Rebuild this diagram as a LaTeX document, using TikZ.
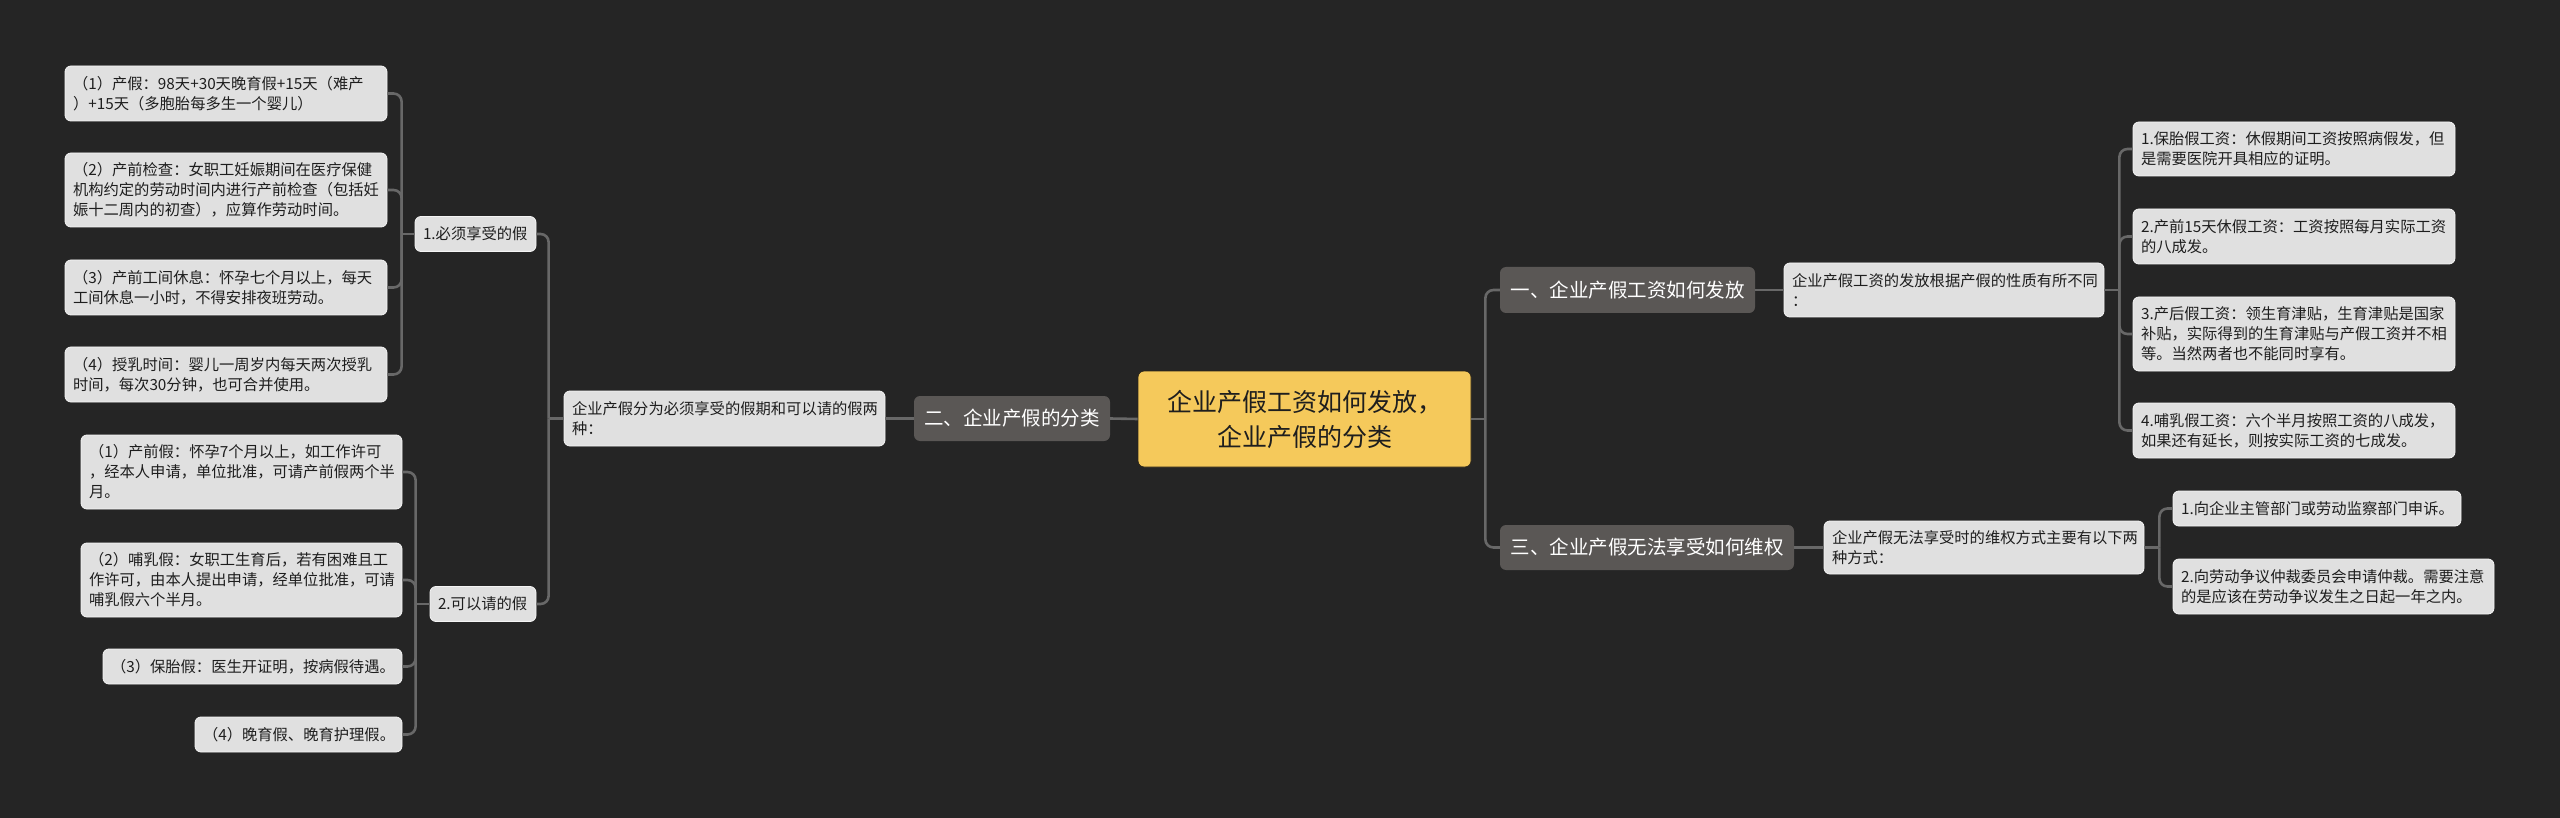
\documentclass[tikz,border=0pt]{standalone}
\usepackage{fontspec}
\setmainfont{Noto Sans CJK SC}
\definecolor{bg}{HTML}{252525}
\definecolor{leaffill}{HTML}{E0E0E0}
\definecolor{leafline}{HTML}{F4F4F4}
\definecolor{catfill}{HTML}{5A5755}
\definecolor{mainfill}{HTML}{F5C95B}
\definecolor{mainline}{HTML}{2A2418}
\definecolor{conncol}{HTML}{686868}
\definecolor{leaftext}{HTML}{1E1E1E}
\tikzset{
  leaf/.style={draw=leafline, line width=0.8pt, fill=leaffill, rounded corners=6pt,
    text=leaftext, inner xsep=8pt, inner ysep=2pt, align=left, text width=#1,
    font=\fontsize{15.3}{20}\selectfont},
  cat/.style={fill=catfill, rounded corners=6pt, text=white, inner sep=0pt,
    font=\fontsize{19.5}{24}\selectfont},
  mainbox/.style={draw=mainline, line width=0.8pt, fill=mainfill, rounded corners=6pt,
    text=leaftext, inner sep=0pt, align=center, font=\fontsize{25}{35}\selectfont},
  conn/.style={draw=conncol, line width=2.6pt, rounded corners=8pt},
}
\begin{document}
\begin{tikzpicture}[x=1pt,y=-1pt]
\fill[bg] (0,0) rectangle (2560,818);
\useasboundingbox (0,0) rectangle (2560,818);

% main
\node[mainbox, minimum width=333pt, minimum height=96pt] (main) at (1304.5,419) {企业产假工资如何发放，\\企业产假的分类};

% left part
\node[cat, minimum width=196pt, minimum height=45pt] (c2) at (1012,418.5) {二、企业产假的分类};
\node[leaf=305pt, minimum height=55pt] (mid) at (724.5,418.5) {企业产假分为必须享受的假期和可以请的假两\\种：};
\node[leaf=105pt, minimum height=35pt] (n1) at (475.5,234) {1.必须享受的假};
\node[leaf=90pt, minimum height=35pt] (n2) at (483,604) {2.可以请的假};

\node[leaf=306pt, minimum height=55pt] (l1) at (226,93.5) {（1）产假：98天+30天晚育假+15天（难产\\）+15天（多胞胎每多生一个婴儿）};
\node[leaf=306pt, minimum height=74pt] (l2) at (226,190) {（2）产前检查：女职工妊娠期间在医疗保健\\机构约定的劳动时间内进行产前检查（包括妊\\娠十二周内的初查），应算作劳动时间。};
\node[leaf=306pt, minimum height=55pt] (l3) at (226,287.5) {（3）产前工间休息：怀孕七个月以上，每天\\工间休息一小时，不得安排夜班劳动。};
\node[leaf=306pt, minimum height=55pt] (l4) at (226,374.5) {（4）授乳时间：婴儿一周岁内每天两次授乳\\时间，每次30分钟，也可合并使用。};

\node[leaf=305pt, minimum height=74pt] (r1) at (241.5,472) {（1）产前假：怀孕7个月以上，如工作许可\\，经本人申请，单位批准，可请产前假两个半\\月。};
\node[leaf=305pt, minimum height=74pt] (r2) at (241.5,580) {（2）哺乳假：女职工生育后，若有困难且工\\作许可，由本人提出申请，经单位批准，可请\\哺乳假六个半月。};
\node[leaf=283pt, minimum height=35pt] (r3) at (252.5,666.5) {（3）保胎假：医生开证明，按病假待遇。};
\node[leaf=191pt, minimum height=35pt] (r4) at (298.5,734.5) {（4）晚育假、晚育护理假。};

% right part
\node[cat, minimum width=255pt, minimum height=46pt] (c1) at (1627.5,290) {一、企业产假工资如何发放};
\node[cat, minimum width=294pt, minimum height=45pt] (c3) at (1647,547.5) {三、企业产假无法享受如何维权};
\node[leaf=304pt, minimum height=54pt] (b1) at (1944,290) {企业产假工资的发放根据产假的性质有所不同\\：};
\node[leaf=304pt, minimum height=53pt] (b3) at (1984,547.5) {企业产假无法享受时的维权方式主要有以下两\\种方式：};

\node[leaf=306pt, minimum height=54pt] (w1) at (2294,149) {1.保胎假工资：休假期间工资按照病假发，但\\是需要医院开具相应的证明。};
\node[leaf=306pt, minimum height=55pt] (w2) at (2294,236.5) {2.产前15天休假工资：工资按照每月实际工资\\的八成发。};
\node[leaf=306pt, minimum height=74pt] (w3) at (2294,334) {3.产后假工资：领生育津贴，生育津贴是国家\\补贴，实际得到的生育津贴与产假工资并不相\\等。当然两者也不能同时享有。};
\node[leaf=306pt, minimum height=55pt] (w4) at (2294,430.5) {4.哺乳假工资：六个半月按照工资的八成发，\\如果还有延长，则按实际工资的七成发。};

\node[leaf=272pt, minimum height=35pt] (v1) at (2317,508.5) {1.向企业主管部门或劳动监察部门申诉。};
\node[leaf=305pt, minimum height=55pt] (v2) at (2333.5,586.5) {2.向劳动争议仲裁委员会申请仲裁。需要注意\\的是应该在劳动争议发生之日起一年之内。};

% connectors
\begin{scope}[on background layer/.style={}]
\end{scope}
\draw[conn] (main.west) -- (c2.east);
\draw[conn] (c2.west) -- (mid.east);
\draw[conn] (mid.west) -- ([xshift=-15pt]mid.west);
\draw[conn] ([xshift=-15pt]mid.west) |- (n1.east);
\draw[conn] ([xshift=-15pt]mid.west) |- (n2.east);

\draw[conn] (n1.west) -- ([xshift=-13pt]n1.west);
\foreach \c in {l1,l2,l3,l4}{
  \draw[conn] ([xshift=-13pt]n1.west) |- (\c.east);
}
\draw[conn] (n2.west) -- ([xshift=-14pt]n2.west);
\foreach \c in {r1,r2,r3,r4}{
  \draw[conn] ([xshift=-14pt]n2.west) |- (\c.east);
}

\draw[conn] (main.east) -- ([xshift=14pt]main.east);
\draw[conn] ([xshift=14pt]main.east) |- (c1.west);
\draw[conn] ([xshift=14pt]main.east) |- (c3.west);
\draw[conn] (c1.east) -- (b1.west);
\draw[conn] (c3.east) -- (b3.west);

\draw[conn] (b1.east) -- ([xshift=15pt]b1.east);
\foreach \c in {w1,w2,w3,w4}{
  \draw[conn] ([xshift=15pt]b1.east) |- (\c.west);
}
\draw[conn] (b3.east) -- ([xshift=15pt]b3.east);
\foreach \c in {v1,v2}{
  \draw[conn] ([xshift=15pt]b3.east) |- (\c.west);
}
\end{tikzpicture}
\end{document}
